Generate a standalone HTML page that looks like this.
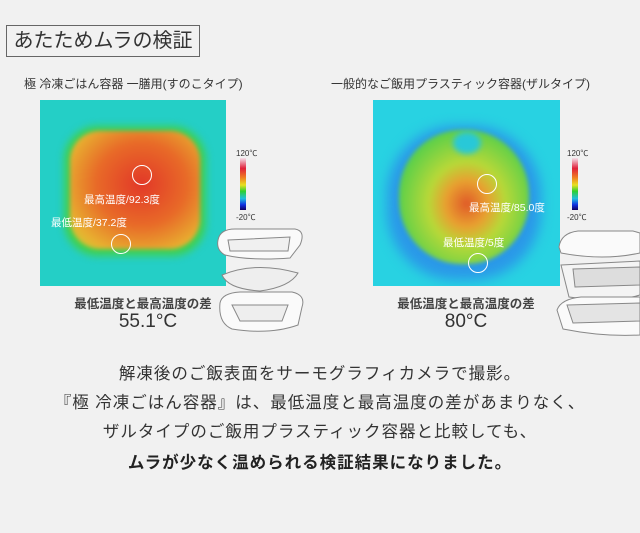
<!DOCTYPE html>
<html><head><meta charset="utf-8"><style>
body{margin:0;width:640px;height:533px;background:#f1f1f1;font-family:"Liberation Sans","Noto Sans CJK JP",sans-serif;color:#333;position:relative;overflow:hidden}
.a{position:absolute}
.title{left:6px;top:25px;width:194px;height:32px;border:1.5px solid #666;box-sizing:border-box;font-size:20px;line-height:30px;text-align:center;color:#333}
.cap{font-size:12px;color:#333;white-space:nowrap}
.th{overflow:hidden}
.lbl{color:#fff;font-size:10.5px;white-space:nowrap}
.circ{border:1.5px solid #fff;border-radius:50%;width:18px;height:18px}
.cb{width:6px;height:52px;background:linear-gradient(#f4e0ea,#e0203a 20%,#f08020 38%,#e8e020 52%,#30d030 64%,#20c0e0 78%,#1030e0 90%,#100060)}
.sm{font-size:8px;color:#333}
.diff{font-size:12.5px;font-weight:bold;color:#444;text-align:center;width:220px}
.big{font-size:19px;color:#333;text-align:center;width:220px}
.bt{width:640px;text-align:center;font-size:16.5px;color:#333;letter-spacing:1px}
</style></head><body>
<div class="a title">あたためムラの検証</div>
<div class="a cap" style="left:24px;top:75px">極 冷凍ごはん容器 一膳用(すのこタイプ)</div>
<div class="a cap" style="left:331px;top:75px">一般的なご飯用プラスティック容器(ザルタイプ)</div>

<div class="a th" style="left:40px;top:100px;width:186px;height:186px;background:#24cfc6">
 <div class="a" style="left:24px;top:26px;width:142px;height:130px;border-radius:34px;background:#40d050;filter:blur(4px)"></div>
 <div class="a" style="left:30px;top:31px;width:130px;height:118px;border-radius:30px;background:radial-gradient(ellipse at 55% 45%,#e23828 0%,#e86a28 45%,#e8b030 78%,#b8d838 100%);filter:blur(2px)"></div>
</div>
<div class="a circ" style="left:132px;top:165px"></div>
<div class="a circ" style="left:111px;top:234px"></div>
<div class="a lbl" style="left:84px;top:192px">最高温度/92.3度</div>
<div class="a lbl" style="left:51px;top:215px">最低温度/37.2度</div>
<div class="a sm" style="left:236px;top:148px">120℃</div>
<div class="a cb" style="left:240px;top:158px"></div>
<div class="a sm" style="left:236px;top:212px">-20℃</div>

<div class="a th" style="left:373px;top:100px;width:187px;height:186px;background:#28d2e2">
 <div class="a" style="left:14px;top:26px;width:154px;height:154px;border-radius:45%;background:#2a98e8;filter:blur(6px)"></div>
 <div class="a" style="left:26px;top:30px;width:130px;height:134px;border-radius:48%;background:radial-gradient(ellipse at 52% 55%,#e05a28 0%,#e8a030 22%,#b8d838 40%,#60d048 70%,#40c878 100%);filter:blur(2px)"></div>
 <div class="a" style="left:80px;top:32px;width:28px;height:22px;border-radius:50%;background:#28c8d8;filter:blur(3px)"></div>
</div>
<div class="a circ" style="left:477px;top:174px"></div>
<div class="a circ" style="left:468px;top:253px"></div>
<div class="a lbl" style="left:469px;top:200px">最高温度/85.0度</div>
<div class="a lbl" style="left:443px;top:235px">最低温度/5度</div>
<div class="a sm" style="left:567px;top:148px">120℃</div>
<div class="a cb" style="left:572px;top:158px"></div>
<div class="a sm" style="left:567px;top:212px">-20℃</div>

<svg class="a" style="left:210px;top:225px" width="100" height="115" fill="#fafafa" stroke="#888" stroke-width="1">
 <path d="M8 15 Q10 4 25 4 L85 4 Q96 6 90 20 L80 33 Q40 36 15 30 Q6 25 8 15Z"/>
 <path d="M18 15 L80 12 L78 26 L20 26Z" fill="#f0f0f0"/>
 <path d="M12 50 Q45 36 88 48 Q80 62 50 66 Q18 64 12 50Z" fill="#eee"/>
 <path d="M10 78 Q12 68 30 67 L82 67 Q96 70 92 82 L88 100 Q60 110 22 104 Q8 98 10 78Z"/>
 <path d="M22 80 L78 80 L72 96 L30 96Z" fill="#eee"/>
</svg>
<svg class="a" style="left:553px;top:225px" width="87" height="115" fill="#fafafa" stroke="#888" stroke-width="1">
 <path d="M6 22 Q8 8 25 6 L80 6 L87 8 L87 28 Q50 36 8 28Z"/>
 <path d="M8 40 L87 36 L87 70 Q60 78 16 72Z" fill="#f4f4f4"/>
 <path d="M20 44 L87 42 L87 60 L22 62Z" fill="#ddd"/>
 <path d="M4 85 Q8 74 28 72 L87 72 L87 110 Q50 112 10 104Z"/>
 <path d="M14 80 L87 78 L87 96 L20 98Z" fill="#e4e4e4"/>
</svg>

<div class="a diff" style="left:33px;top:293px">最低温度と最高温度の差</div>
<div class="a big" style="left:38px;top:311px">55.1°C</div>
<div class="a diff" style="left:356px;top:293px">最低温度と最高温度の差</div>
<div class="a big" style="left:356px;top:311px">80°C</div>

<div class="a bt" style="left:0;top:360px">解凍後のご飯表面をサーモグラフィカメラで撮影。</div>
<div class="a bt" style="left:0;top:389px">『極 冷凍ごはん容器』は、最低温度と最高温度の差があまりなく、</div>
<div class="a bt" style="left:0;top:418px">ザルタイプのご飯用プラスティック容器と比較しても、</div>
<div class="a bt" style="left:0;top:449px;font-weight:bold;color:#222">ムラが少なく温められる検証結果になりました。</div>
</body></html>
